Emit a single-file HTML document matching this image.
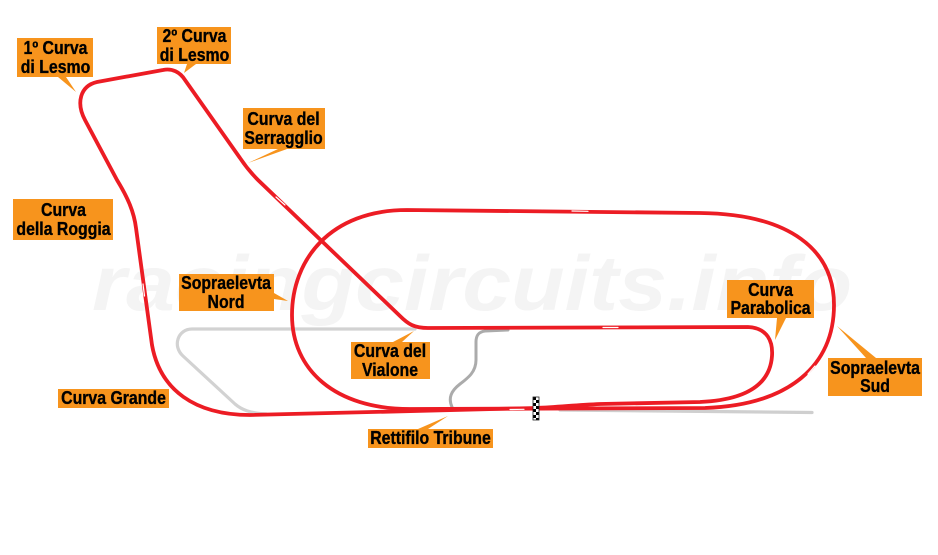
<!DOCTYPE html>
<html>
<head>
<meta charset="utf-8">
<style>
html,body{margin:0;padding:0;background:#fff;}
#wrap{position:relative;width:938px;height:555px;overflow:hidden;background:#fff;}
svg{position:absolute;left:0;top:0;}
.lb{position:absolute;background:#f7941d;display:flex;align-items:center;justify-content:center;font-family:"Liberation Sans",Arial,sans-serif;font-weight:bold;font-size:18px;line-height:18.5px;color:#000;}
.lb div{white-space:nowrap;text-align:center;transform:scaleX(0.88);-webkit-text-stroke:0.35px #000;}
</style>
</head>
<body>
<div id="wrap">
<svg width="938" height="555" viewBox="0 0 938 555" xmlns="http://www.w3.org/2000/svg">
  <defs>
    <pattern id="chk" x="533" y="397" width="6" height="6" patternUnits="userSpaceOnUse">
      <rect width="6" height="6" fill="#fff"/>
      <rect width="3" height="3" fill="#000"/>
      <rect x="3" y="3" width="3" height="3" fill="#000"/>
    </pattern>
  </defs>
  <!-- watermark -->
  <text x="92" y="310" font-family="Liberation Sans, sans-serif" font-size="78" font-weight="bold" font-style="italic" fill="#f4f4f4" textLength="760" lengthAdjust="spacingAndGlyphs">racingcircuits.info</text>

  <!-- gray service roads -->
  <g fill="none" stroke-linecap="round" stroke-linejoin="round">
    <path d="M 415,329 L 192,329 C 178,329 172,346 183,356 L 235,404 C 242,410 250,413 266,414" stroke="#d2d2d2" stroke-width="3.2"/>
    <path d="M 508,330 L 485,331 C 478,332 476,336 476,342 L 476,360 C 476,372 468,378 460,384 C 451,391 448,398 452,407" stroke="#ababab" stroke-width="3"/>
    <path d="M 560,410 L 812,412.5" stroke="#cfcfcf" stroke-width="3.2"/>
  </g>

  <!-- red tracks -->
  <g fill="none" stroke="#ec1c24" stroke-width="3.8" stroke-linecap="round" stroke-linejoin="round">
    <!-- oval -->
    <path d="M 407,210 L 700,213 C 790,214 834,250 834,305 C 834,365 790,405 705,408 L 410,409 C 335,409 292,370 292,315 C 292,260 330,210 407,210 Z"/>
    <!-- road course -->
    <path d="M 428,328 L 748,327 C 768,328 773,342 772,356 C 770,385 745,400 700,402 L 600,404 C 575,405 560,407 536,408 L 250,415 C 195,415 160,390 152,345 L 136,228 C 134,212 128,198 117,180 L 85,120 C 76,103 80,86 97,82 L 163,70 C 172,68 180,72 185,80 L 240,158 C 246,167 250,172 258,180 L 400,316 C 408,324 414,328 428,328 Z"/>
  </g>

  <!-- white direction marks -->
  <g stroke="#fff" stroke-width="1.2" stroke-linecap="round" fill="none">
    <line x1="572" y1="211" x2="588" y2="211.3"/>
    <line x1="603" y1="327.5" x2="618" y2="327.5"/>
    <line x1="510" y1="409.5" x2="524" y2="409.3"/>
    <line x1="356" y1="396" x2="368" y2="401"/>
    <line x1="143" y1="284" x2="144.5" y2="296"/>
    <line x1="276" y1="197" x2="285" y2="205"/>
    <line x1="808" y1="374" x2="815" y2="366"/>
  </g>

  <!-- checkered flag -->
  <rect x="533" y="397" width="6" height="23" fill="url(#chk)" stroke="#222" stroke-width="0.8"/>

  <!-- label pointers -->
  <g fill="#f7941d">
    <polygon points="58,77 66,77 76,92"/>
    <polygon points="187,64 196,64 184,73"/>
    <polygon points="278,149 287,149 248,163"/>
    <polygon points="274,293 274,299 288,301"/>
    <polygon points="393,342 402,342 414,331"/>
    <polygon points="418,429 428,429 448,416"/>
    <polygon points="777,318 786,318 775,340"/>
    <polygon points="866,358 876,358 837,326"/>
  </g>
</svg>

<div class="lb" style="left:17px;top:38px;width:76px;height:39px;"><div>1º Curva<br>di Lesmo</div></div>
<div class="lb" style="left:157px;top:27px;width:74px;height:37px;"><div>2º Curva<br>di Lesmo</div></div>
<div class="lb" style="left:243px;top:108px;width:82px;height:41px;"><div>Curva del<br>Serragglio</div></div>
<div class="lb" style="left:13px;top:199px;width:100px;height:41px;"><div>Curva<br>della Roggia</div></div>
<div class="lb" style="left:179px;top:274px;width:95px;height:37px;"><div>Sopraelevta<br>Nord</div></div>
<div class="lb" style="left:58px;top:389px;width:111px;height:19px;"><div>Curva Grande</div></div>
<div class="lb" style="left:351px;top:342px;width:79px;height:37px;"><div>Curva del<br>Vialone</div></div>
<div class="lb" style="left:368px;top:429px;width:125px;height:19px;"><div>Rettifilo Tribune</div></div>
<div class="lb" style="left:727px;top:280px;width:87px;height:38px;"><div>Curva<br>Parabolica</div></div>
<div class="lb" style="left:828px;top:358px;width:94px;height:38px;"><div>Sopraelevta<br>Sud</div></div>
</div>
</body>
</html>
